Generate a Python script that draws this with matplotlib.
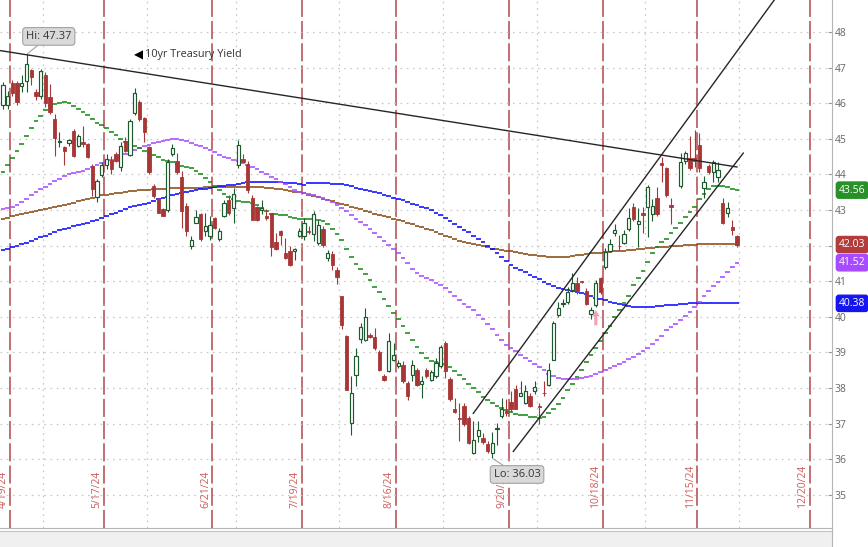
import numpy as np
import pandas as pd
import matplotlib
matplotlib.use('Agg')
import matplotlib.pyplot as plt
from matplotlib.patches import Rectangle
from matplotlib.lines import Line2D

plt.rcParams['font.family'] = ['Open Sans', 'DejaVu Sans']
plt.rcParams['lines.scale_dashes'] = False

# trading-day slots (NYSE calendar); slot 0 = 4/18/24
nyse_holidays = ['2024-05-27', '2024-06-19', '2024-07-04', '2024-09-02',
                 '2024-11-28', '2024-12-25']
slots = pd.bdate_range('2024-04-18', '2024-12-31', freq='C', holidays=nyse_holidays)

opex_dates = ['2024-04-19', '2024-05-17', '2024-06-21', '2024-07-19', '2024-08-16',
              '2024-09-20', '2024-10-18', '2024-11-15', '2024-12-20']

nan = np.nan
# 10yr Treasury yield (x10), daily OHLC, 4/18/24 .. 11/29/24 (11/11 no bar)
opens = [
    45.96, 45.96, 46.58, 46.58, 46.48, 46.63, 46.93, 46.33, 46.19, 46.78,
    46.18, 45.56, 44.90, 44.78, 44.89, 45.23, 44.81, 44.92, 44.86, 44.25,
    43.38, 43.99, 44.27, 44.42, 44.58, 44.20, 44.95, 44.55, 45.73, 46.04,
    45.58, 44.77, 43.68, 43.31, 43.04, 43.01, 44.58, 44.39, 43.92, 43.12,
    41.98, 42.65, 42.90, 42.40, 42.26, 42.78, 42.19, 42.84, 43.29, 43.06,
    44.27, 44.43, 44.30, 43.34, 43.08, 43.00, 42.82, 42.92, 42.09, 42.40,
    41.79, 41.84, 41.84, 42.26, 42.26, 42.42, 42.33, 42.07, 42.47, 41.65,
    41.77, 41.33, 40.58, 39.46, 37.01, 38.36, 39.38, 39.35, 39.50, 39.44,
    39.00, 38.35, 38.47, 38.80, 38.61, 38.66, 38.13, 38.38, 38.50, 38.12,
    38.52, 38.24, 38.33, 38.61, 39.26, 38.26, 37.42, 37.16, 37.51, 37.17,
    36.17, 36.64, 36.61, 36.42, 36.17, 36.84, 37.21, 37.35, 37.60, 37.98,
    37.79, 37.59, 37.79, 37.91, 37.49, 37.87, 38.10, 38.80, 40.05, 40.35,
    40.42, 40.75, 40.95, 41.00, 40.73, 40.09, 40.32, 41.08, 41.40, 41.85,
    42.36, 42.00, 42.08, 42.46, 43.08, 42.62, 42.91, 43.08, 42.89, 43.33,
    44.33, 44.17, 43.13, nan, 43.68, 44.38, 44.46, 44.45, 44.83, 43.61,
    44.24, 44.08, 43.92, 43.19, 42.91, 42.53, 42.27]
highs = [
    46.60, 46.35, 46.65, 46.62, 46.78, 47.37, 46.97, 46.40, 46.95, 46.88,
    46.55, 45.70, 45.20, 44.80, 45.00, 45.28, 45.13, 45.37, 44.87, 44.30,
    43.87, 44.34, 44.58, 44.53, 44.63, 44.90, 45.04, 45.56, 46.43, 46.10,
    45.60, 44.80, 43.72, 43.35, 43.06, 44.44, 44.86, 44.60, 44.11, 43.20,
    42.26, 43.00, 42.92, 42.93, 42.82, 42.81, 42.50, 43.27, 43.43, 43.62,
    44.97, 44.58, 44.37, 43.43, 43.12, 43.28, 43.03, 42.93, 42.36, 42.45,
    42.21, 42.00, 41.93, 42.50, 42.78, 42.54, 42.96, 42.73, 42.55, 41.89,
    41.84, 41.40, 40.60, 39.48, 38.34, 39.13, 39.83, 40.25, 39.55, 39.70,
    39.07, 38.40, 39.56, 39.26, 38.80, 38.75, 38.19, 38.80, 38.57, 38.33,
    38.57, 38.52, 38.84, 39.21, 39.33, 38.30, 37.73, 37.59, 37.58, 37.22,
    37.07, 37.07, 36.75, 36.51, 36.77, 37.01, 37.73, 37.68, 37.91, 38.10,
    38.19, 38.10, 37.86, 38.19, 37.57, 38.19, 38.71, 39.87, 40.42, 40.51,
    40.84, 41.22, 41.12, 41.02, 40.80, 40.28, 41.03, 41.11, 41.93, 42.20,
    42.61, 42.30, 42.43, 43.05, 43.19, 43.05, 43.08, 43.70, 43.30, 43.66,
    44.50, 44.22, 43.33, nan, 44.60, 44.66, 45.07, 45.25, 45.16, 43.95,
    44.30, 44.41, 44.36, 43.33, 43.24, 42.72, 42.30]
lows = [
    45.85, 45.85, 46.20, 45.95, 46.31, 46.31, 46.50, 46.10, 46.12, 45.90,
    45.70, 44.53, 44.77, 44.27, 44.80, 44.48, 44.76, 44.77, 44.46, 43.40,
    43.23, 43.93, 44.16, 44.01, 44.35, 44.10, 44.63, 44.53, 45.66, 45.50,
    44.90, 44.01, 43.35, 42.92, 42.82, 42.94, 44.51, 44.01, 42.51, 42.26,
    41.91, 42.63, 42.12, 42.28, 42.17, 42.47, 42.12, 42.80, 42.87, 42.64,
    44.18, 44.34, 43.48, 42.71, 42.68, 42.88, 42.72, 41.70, 41.89, 42.03,
    41.63, 41.44, 41.59, 42.24, 42.17, 42.33, 42.12, 42.03, 41.97, 41.56,
    41.33, 40.91, 39.66, 37.94, 36.69, 38.06, 39.27, 39.32, 39.42, 39.08,
    38.47, 38.20, 38.46, 38.75, 38.56, 38.14, 37.66, 38.19, 38.05, 37.73,
    38.28, 38.19, 38.28, 38.56, 38.28, 37.63, 37.31, 36.52, 36.93, 36.42,
    36.14, 36.49, 36.42, 36.19, 36.03, 36.40, 37.17, 37.21, 37.33, 37.40,
    37.77, 37.54, 37.47, 37.84, 37.00, 37.77, 38.05, 38.78, 39.99, 40.28,
    40.37, 40.70, 40.65, 40.96, 40.32, 39.95, 40.27, 40.65, 41.35, 41.82,
    42.26, 41.87, 42.04, 42.40, 42.68, 41.97, 42.35, 42.25, 42.70, 42.82,
    43.80, 43.37, 42.62, nan, 43.61, 44.30, 44.13, 44.20, 44.08, 43.35,
    44.00, 43.80, 43.80, 42.62, 42.81, 42.30, 41.97]
closes = [
    46.52, 46.21, 46.29, 46.03, 46.58, 47.11, 46.74, 46.19, 46.91, 46.00,
    45.75, 45.03, 44.95, 44.67, 44.97, 44.51, 45.09, 44.86, 44.48, 43.59,
    43.82, 44.27, 44.44, 44.15, 44.39, 44.79, 44.67, 45.49, 46.30, 45.56,
    45.19, 44.06, 43.40, 42.93, 42.84, 44.34, 44.74, 44.06, 42.98, 42.40,
    42.17, 42.80, 42.19, 42.54, 42.59, 42.50, 42.40, 43.21, 42.92, 43.46,
    44.83, 44.36, 43.55, 42.73, 42.71, 43.05, 42.78, 41.96, 41.91, 42.31,
    41.65, 41.47, 41.92, 42.42, 42.64, 42.39, 42.90, 42.59, 42.03, 41.79,
    41.47, 41.12, 39.76, 37.96, 37.87, 38.90, 39.72, 40.00, 39.44, 39.13,
    38.52, 38.22, 39.31, 38.93, 38.70, 38.19, 37.79, 38.66, 38.10, 38.21,
    38.33, 38.44, 38.70, 39.14, 38.47, 37.70, 37.33, 37.12, 36.98, 36.47,
    36.54, 36.82, 36.49, 36.24, 36.45, 36.89, 37.42, 37.31, 37.40, 37.42,
    37.85, 37.91, 37.51, 38.03, 37.47, 37.85, 38.52, 39.82, 40.26, 40.39,
    40.70, 40.95, 40.73, 40.98, 40.37, 40.18, 40.96, 40.70, 41.83, 42.06,
    42.44, 41.98, 42.34, 42.79, 42.74, 42.70, 42.86, 43.66, 43.11, 42.89,
    44.27, 43.42, 43.10, nan, 44.36, 44.60, 44.17, 44.38, 44.17, 43.80,
    44.08, 44.36, 44.13, 42.64, 43.05, 42.44, 42.03]

# moving averages, one value per slot
ma20 = [
    44.07, 44.27, 44.46, 44.65, 44.85, 45.07, 45.30, 45.50, 45.65, 45.80,
    45.92, 45.98, 46.02, 46.03, 46.00, 45.93, 45.85, 45.76, 45.66, 45.55,
    45.45, 45.38, 45.30, 45.20, 45.10, 45.00, 44.92, 44.86, 44.80, 44.73,
    44.66, 44.60, 44.54, 44.48, 44.42, 44.38, 44.34, 44.29, 44.25, 44.21,
    44.17, 44.10, 44.02, 43.90, 43.80, 43.68, 43.55, 43.45, 43.38, 43.30,
    43.26, 43.24, 43.22, 43.20, 43.15, 43.05, 42.97, 42.90, 42.88, 42.87,
    42.85, 42.80, 42.77, 42.76, 42.75, 42.75, 42.74, 42.72, 42.68, 42.60,
    42.48, 42.32, 42.15, 41.90, 41.68, 41.48, 41.35, 41.20, 41.03, 40.85,
    40.70, 40.50, 40.30, 40.12, 39.93, 39.75, 39.55, 39.35, 39.15, 38.98,
    38.85, 38.76, 38.72, 38.70, 38.67, 38.58, 38.47, 38.37, 38.25, 38.12,
    38.00, 37.88, 37.76, 37.66, 37.57, 37.50, 37.44, 37.38, 37.32, 37.28,
    37.25, 37.23, 37.20, 37.18, 37.17, 37.20, 37.30, 37.40, 37.55, 37.73,
    37.94, 38.12, 38.30, 38.50, 38.72, 38.93, 39.13, 39.33, 39.55, 39.75,
    40.00, 40.20, 40.40, 40.60, 40.90, 41.10, 41.30, 41.55, 41.80, 41.95,
    42.10, 42.20, 42.35, 42.50, 42.65, 42.80, 42.95, 43.10, 43.30, 43.45,
    43.60, 43.67, 43.68, 43.67, 43.65, 43.60, 43.56]
ma50 = [
    43.02, 43.05, 43.09, 43.13, 43.22, 43.32, 43.42, 43.50, 43.58, 43.66,
    43.74, 43.81, 43.88, 43.95, 44.00, 44.04, 44.07, 44.10, 44.15, 44.20,
    44.26, 44.31, 44.35, 44.40, 44.44, 44.50, 44.57, 44.63, 44.68, 44.73,
    44.79, 44.84, 44.88, 44.92, 44.95, 44.98, 45.00, 45.00, 44.98, 44.94,
    44.89, 44.84, 44.79, 44.74, 44.68, 44.62, 44.56, 44.50, 44.46, 44.41,
    44.37, 44.33, 44.27, 44.20, 44.14, 44.08, 44.01, 43.94, 43.87, 43.80,
    43.72, 43.64, 43.57, 43.50, 43.47, 43.44, 43.41, 43.37, 43.33, 43.29,
    43.24, 43.15, 43.06, 42.96, 42.86, 42.76, 42.66, 42.57, 42.46, 42.35,
    42.24, 42.13, 42.02, 41.90, 41.79, 41.65, 41.50, 41.35, 41.22, 41.15,
    41.09, 41.03, 40.96, 40.90, 40.80, 40.69, 40.58, 40.47, 40.37, 40.27,
    40.18, 40.06, 39.94, 39.80, 39.65, 39.50, 39.35, 39.21, 39.12, 39.03,
    38.94, 38.85, 38.76, 38.67, 38.59, 38.50, 38.40, 38.33, 38.28, 38.26,
    38.25, 38.25, 38.25, 38.27, 38.30, 38.35, 38.40, 38.46, 38.51, 38.57,
    38.62, 38.68, 38.74, 38.81, 38.88, 38.95, 39.03, 39.12, 39.23, 39.35,
    39.47, 39.62, 39.72, 39.80, 39.90, 40.02, 40.15, 40.28, 40.43, 40.58,
    40.73, 40.86, 40.99, 41.12, 41.25, 41.39, 41.52]
ma100 = [
    41.88, 41.92, 41.96, 42.00, 42.04, 42.08, 42.13, 42.18, 42.23, 42.28,
    42.33, 42.38, 42.43, 42.47, 42.51, 42.55, 42.58, 42.61, 42.65, 42.69,
    42.73, 42.78, 42.83, 42.88, 42.93, 42.98, 43.03, 43.08, 43.11, 43.14,
    43.17, 43.21, 43.25, 43.30, 43.34, 43.38, 43.42, 43.45, 43.48, 43.51,
    43.53, 43.56, 43.58, 43.60, 43.63, 43.65, 43.67, 43.68, 43.70, 43.71,
    43.73, 43.76, 43.78, 43.79, 43.80, 43.80, 43.80, 43.79, 43.79, 43.78,
    43.77, 43.76, 43.75, 43.73, 43.71, 43.75, 43.75, 43.75, 43.75, 43.75,
    43.74, 43.74, 43.73, 43.70, 43.67, 43.63, 43.60, 43.57, 43.54, 43.50,
    43.47, 43.43, 43.39, 43.35, 43.31, 43.27, 43.22, 43.18, 43.14, 43.09,
    43.05, 43.00, 42.93, 42.86, 42.78, 42.70, 42.62, 42.53, 42.45, 42.37,
    42.28, 42.19, 42.09, 41.99, 41.90, 41.79, 41.67, 41.56, 41.45, 41.38,
    41.31, 41.25, 41.18, 41.12, 41.05, 40.99, 40.93, 40.87, 40.82, 40.79,
    40.76, 40.73, 40.71, 40.68, 40.64, 40.59, 40.54, 40.50, 40.46, 40.42,
    40.38, 40.35, 40.33, 40.31, 40.29, 40.28, 40.28, 40.28, 40.29, 40.30,
    40.31, 40.32, 40.33, 40.34, 40.35, 40.37, 40.39, 40.40, 40.40, 40.40,
    40.40, 40.40, 40.39, 40.39, 40.39, 40.38, 40.38]
ma200 = [
    42.76, 42.79, 42.82, 42.85, 42.88, 42.91, 42.94, 42.97, 43.00, 43.03,
    43.06, 43.09, 43.12, 43.14, 43.17, 43.21, 43.25, 43.28, 43.32, 43.35,
    43.38, 43.41, 43.43, 43.45, 43.47, 43.49, 43.51, 43.53, 43.54, 43.55,
    43.56, 43.57, 43.58, 43.59, 43.60, 43.60, 43.61, 43.61, 43.62, 43.62,
    43.62, 43.63, 43.63, 43.64, 43.64, 43.65, 43.65, 43.66, 43.66, 43.66,
    43.66, 43.66, 43.66, 43.65, 43.65, 43.64, 43.63, 43.62, 43.60, 43.58,
    43.56, 43.54, 43.52, 43.50, 43.47, 43.43, 43.40, 43.36, 43.32, 43.28,
    43.25, 43.21, 43.17, 43.14, 43.10, 43.06, 43.02, 42.98, 42.94, 42.90,
    42.87, 42.84, 42.80, 42.76, 42.72, 42.68, 42.64, 42.60, 42.56, 42.52,
    42.48, 42.43, 42.38, 42.33, 42.28, 42.23, 42.18, 42.14, 42.11, 42.08,
    42.05, 42.02, 41.98, 41.95, 41.92, 41.90, 41.88, 41.86, 41.84, 41.81,
    41.79, 41.77, 41.75, 41.73, 41.71, 41.70, 41.69, 41.69, 41.68, 41.68,
    41.69, 41.71, 41.73, 41.75, 41.77, 41.78, 41.79, 41.80, 41.82, 41.83,
    41.84, 41.85, 41.86, 41.88, 41.89, 41.91, 41.92, 41.93, 41.94, 41.95,
    41.96, 41.97, 41.98, 41.99, 42.00, 42.01, 42.02, 42.03, 42.04, 42.04,
    42.05, 42.05, 42.05, 42.05, 42.05, 42.05, 42.03]

# hand-drawn trend lines (slot, value) end points
down_x, down_y = [-0.64, 156.0], [47.48, 44.21]
chan_up_x, chan_up_y = [99.96, 164.1], [37.29, 48.93]
chan_lo_x, chan_lo_y = [108.46, 157.34], [36.22, 44.60]

signal_dates = ['2024-10-17']

RED = '#a93636'
GREEN_C = '#1d5a2e'


def main():
    o = np.array(opens)
    h = np.array(highs)
    l = np.array(lows)
    c = np.array(closes)
    x = np.arange(len(c))

    fig = plt.figure(figsize=(8.68, 5.47), dpi=100)
    ax = fig.add_axes([0, 19 / 547, 832 / 868, 528 / 547])
    ax.set_xlim(-0.64, 176.2)
    ax.set_ylim(34.07, 48.9)

    # month grid + price grid
    month_edges = [k - 0.5 for k in range(1, len(slots)) if slots[k].month != slots[k - 1].month]
    ax.set_xticks(month_edges)
    yt = list(range(35, 49))
    ax.set_yticks(yt)
    # the 42 label sits under the last-close tag in the original
    ax.set_yticklabels(['' if v == 42 else str(v) for v in yt])
    ax.grid(True, color='#c8c8c8', linestyle=(0, (1.2, 3.3)), linewidth=0.9, zorder=0)
    ax.tick_params(axis='x', length=0, labelbottom=False)
    ax.yaxis.tick_right()
    ax.tick_params(axis='y', direction='in', length=3, color='#9a9a9a',
                   labelcolor='#666666', labelsize=7.5, pad=2)
    for s in ['top', 'left']:
        ax.spines[s].set_visible(False)
    for s in ['right', 'bottom']:
        ax.spines[s].set_color('#b5b5b5')

    # opex date markers
    for d in opex_dates:
        ts = pd.Timestamp(d)
        pos = slots.get_loc(ts) + 0.5
        ax.axvline(pos, color='#b04848', lw=1.1, linestyle=(0, (13, 3)), zorder=1)
        ax.annotate(f'{ts.month}/{ts.day}/{ts:%y}', xy=(pos, 0.038),
                    xycoords=('data', 'axes fraction'), xytext=(-5, 0),
                    textcoords='offset points', rotation=90, ha='center', va='bottom',
                    color='#cc5a5a', fontsize=7.5)

    # moving averages, drawn as per-bar steps
    for vals, col in [(ma200, '#8a4a12'), (ma100, '#0a0aff'), (ma50, '#a64bff'), (ma20, '#168c16')]:
        ax.hlines(vals, x - 0.5, x + 0.5, colors=col, lw=1.15, zorder=2)

    # candles
    up = c >= o
    dn = c < o
    ax.vlines(x[up], l[up], h[up], color=GREEN_C, lw=0.8, zorder=3)
    ax.vlines(x[dn], l[dn], h[dn], color=RED, lw=0.8, zorder=3)
    ax.bar(x[up], c[up] - o[up], bottom=o[up], width=0.7, facecolor='white',
           edgecolor=GREEN_C, lw=0.85, zorder=4)
    ax.bar(x[dn], o[dn] - c[dn], bottom=c[dn], width=0.7, facecolor=RED,
           edgecolor=RED, lw=0.6, zorder=4)

    # trend lines
    for tx, ty in [(down_x, down_y), (chan_up_x, chan_up_y), (chan_lo_x, chan_lo_y)]:
        ax.plot(tx, ty, color='#262626', lw=1.0, zorder=5)

    # hi / lo callouts
    box = dict(boxstyle='round,pad=0.3', fc='#d9d9d9', ec='#a3a3a3', lw=0.8)
    tail = dict(arrowstyle='-', color='#a3a3a3', lw=0.8, shrinkA=0, shrinkB=1)
    i_hi = int(np.nanargmax(h))
    i_lo = int(np.nanargmin(l))
    ax.annotate(f'Hi: {h[i_hi]:.2f}', xy=(x[i_hi], h[i_hi]), xytext=(16, 13),
                textcoords='offset points', ha='center', va='center', fontsize=8,
                color='#333333', bbox=box, arrowprops=tail, zorder=6)
    ax.annotate(f'Lo: {l[i_lo]:.2f}', xy=(x[i_lo], l[i_lo]), xytext=(17.8, -11.7),
                textcoords='offset points', ha='center', va='center', fontsize=8,
                color='#333333', bbox=box, arrowprops=tail, zorder=6)

    # series tag
    ax.text(0.1610, 0.896, '\u25c0', transform=ax.transAxes, ha='left', va='center',
            fontsize=8.5, color='black', family=['DejaVu Sans'])
    ax.text(0.1740, 0.896, '10yr Treasury Yield', transform=ax.transAxes, ha='left',
            va='center', fontsize=7.8, color='#333333')

    # signal arrow
    for d in signal_dates:
        k = slots.get_loc(pd.Timestamp(d))
        ax.annotate('', xy=(x[k], l[k]), xytext=(0, -13), textcoords='offset points',
                    arrowprops=dict(arrowstyle='simple,head_width=0.55,head_length=0.45,tail_width=0.22',
                                    fc='#f2a2b6', ec='none', shrinkA=0, shrinkB=2), zorder=6)

    # last-value tags on the right
    tags = [(c[-1], '#b33b3b'), (ma20[-1], '#279127'), (ma50[-1], '#a64bff'), (ma100[-1], '#1515f0')]
    for val, col in tags:
        ax.annotate(f'{val:.2f}', xy=(1, val), xycoords=('axes fraction', 'data'),
                    xytext=(5, 0), textcoords='offset points', ha='left', va='center',
                    color='white', fontsize=7.5,
                    bbox=dict(boxstyle='round,pad=0.25', fc=col, ec=col),
                    annotation_clip=False, zorder=10)

    # bottom strip below the plot
    fig.patches.append(Rectangle((0, 0), 832 / 868, 16 / 547, transform=fig.transFigure,
                                 fc='#f0f0f0', ec='none'))
    fig.lines.append(Line2D([0, 832 / 868], [16 / 547, 16 / 547], transform=fig.transFigure,
                            color='#c4c4c4', lw=0.8))
    fig.lines.append(Line2D([832 / 868, 832 / 868], [0, 19 / 547], transform=fig.transFigure,
                            color='#b5b5b5', lw=0.8))

    fig.savefig('out.png', dpi=100, facecolor='white')


if __name__ == '__main__':
    main()
